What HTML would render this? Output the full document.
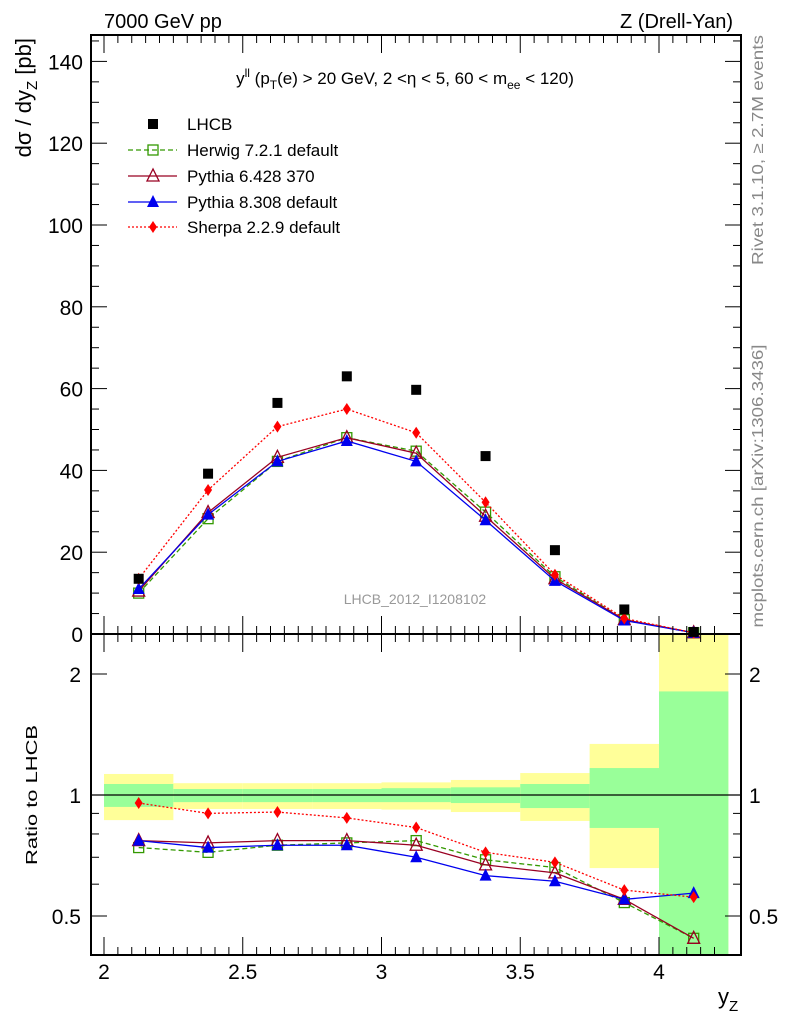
<!DOCTYPE html>
<html><head><meta charset="utf-8"><style>
body{margin:0;background:#fff;}
svg{display:block;font-family:"Liberation Sans",sans-serif;}
</style></head><body>
<svg id="chart" width="786" height="1024" viewBox="0 0 786 1024" xmlns="http://www.w3.org/2000/svg">
<g id="bands"></g>
<g id="marks"></g>
<g id="axes"></g>
<text x="104" y="28" font-size="20">7000 GeV pp</text>
<text x="733" y="28" font-size="20" text-anchor="end">Z (Drell-Yan)</text>
<text x="405" y="84" font-size="17" text-anchor="middle">y<tspan dy="-7" font-size="12">ll</tspan><tspan dy="7"> (p</tspan><tspan dy="5" font-size="12">T</tspan><tspan dy="-5">(e) &gt; 20 GeV, 2 &lt;η &lt; 5, 60 &lt; m</tspan><tspan dy="5" font-size="12">ee</tspan><tspan dy="-5"> &lt; 120)</tspan></text>
<text transform="translate(31,38) rotate(-90)" font-size="22" text-anchor="end">dσ / dy<tspan dy="6" font-size="15">Z</tspan><tspan dy="-6"> [pb]</tspan></text>
<text transform="translate(37,795) rotate(-90)" font-size="16" text-anchor="middle" textLength="140" lengthAdjust="spacingAndGlyphs">Ratio to LHCB</text>
<text x="718" y="1004" font-size="22">y<tspan dy="7" font-size="15">Z</tspan></text>
<text transform="translate(763,150) rotate(-90)" font-size="16" fill="#888" text-anchor="middle" textLength="230" lengthAdjust="spacingAndGlyphs">Rivet 3.1.10, ≥ 2.7M events</text>
<text transform="translate(763,486) rotate(-90)" font-size="16" fill="#888" text-anchor="middle" textLength="283" lengthAdjust="spacingAndGlyphs">mcplots.cern.ch [arXiv:1306.3436]</text>
<text x="415" y="604" font-size="14" fill="#999" text-anchor="middle">LHCB_2012_I1208102</text>
<g id="legend"></g>
</svg>
<script>
const xCenters=[2.125,2.375,2.625,2.875,3.125,3.375,3.625,3.875,4.125];
const binEdges=[2,2.25,2.5,2.75,3,3.25,3.5,3.75,4,4.25];
const dataLHCB=[13.5,39.2,56.5,63,59.7,43.5,20.5,6,0.5];
const herwig=[10,28.2,42.2,48,44.7,29.8,14,3.5,0.3];
const pythia6=[10.5,29.7,43.2,48,44.2,28.8,13.5,3.5,0.3];
const pythia8=[11,29.2,42.2,47.2,42.2,27.8,13,3.3,0.3];
const sherpa=[13.5,35.2,50.7,55,49.2,32.2,14.5,3.8,0.3];
const ratioHerwig=[0.74,0.72,0.75,0.76,0.77,0.69,0.66,0.54,0.44];
const ratioPythia6=[0.77,0.76,0.77,0.77,0.75,0.67,0.64,0.55,0.44];
const ratioPythia8=[0.77,0.74,0.75,0.75,0.70,0.63,0.61,0.55,0.57];
const ratioSherpa=[0.955,0.90,0.907,0.877,0.83,0.72,0.68,0.58,0.557];
const bandInnerLo=[0.934,0.96,0.96,0.96,0.96,0.955,0.928,0.828,0.3];
const bandInnerHi=[1.065,1.035,1.035,1.035,1.04,1.045,1.065,1.167,1.81];
const bandOuterLo=[0.866,0.923,0.923,0.923,0.92,0.907,0.862,0.658,0.3];
const bandOuterHi=[1.128,1.07,1.07,1.07,1.075,1.09,1.134,1.34,3];
const mainTicks=[0,20,40,60,80,100,120,140];
const ratioTicks=[0.5,1,2];
const xTicks=[2,2.5,3,3.5,4];

const NS="http://www.w3.org/2000/svg";
const L=91,R=741,T=35,M=634,B=955;
const X=v=>104+(v-2)*277.5;
const Y=v=>634-v*4.09;
const YR=v=>795-Math.log2(v)*121;
function el(tag,attrs,parent){const e=document.createElementNS(NS,tag);for(const k in attrs)e.setAttribute(k,attrs[k]);parent.appendChild(e);return e;}
const bands=document.getElementById('bands'),marks=document.getElementById('marks'),axes=document.getElementById('axes'),legend=document.getElementById('legend');
const clampR=v=>Math.min(Math.max(YR(v),M),B);
for(let i=0;i<xCenters.length;i++){
  const x0=X(binEdges[i]),x1=X(binEdges[i+1]);
  const o=el('rect',{x:x0,y:clampR(bandOuterHi[i]),width:x1-x0,height:clampR(bandOuterLo[i])-clampR(bandOuterHi[i]),fill:'#ffff99'},bands);
  
  
  const g=el('rect',{x:x0,y:clampR(bandInnerHi[i]),width:x1-x0,height:clampR(bandInnerLo[i])-clampR(bandInnerHi[i]),fill:'#99ff99'},bands);
  
  
}
const one=el('line',{x1:L,x2:R,y1:YR(1),y2:YR(1),stroke:'#000','stroke-width':1.3},bands);



function marker(type,cx,cy,col,parent){
  let m;
  if(type==='sq') m=el('rect',{x:cx-5,y:cy-5,width:10,height:10,fill:'#000'},parent);
  else if(type==='osq') m=el('rect',{x:cx-5,y:cy-5,width:10,height:10,fill:'none',stroke:col,'stroke-width':1.3},parent);
  else if(type==='otri') m=el('polygon',{points:`${cx},${cy-7} ${cx-6},${cy+5} ${cx+6},${cy+5}`,fill:'none',stroke:col,'stroke-width':1.3},parent);
  else if(type==='tri') m=el('polygon',{points:`${cx},${cy-7} ${cx-6},${cy+5} ${cx+6},${cy+5}`,fill:col},parent);
  else m=el('polygon',{points:`${cx},${cy-6} ${cx-4},${cy} ${cx},${cy+6} ${cx+4},${cy}`,fill:col},parent);
  return m;
}
const series=[
 {name:'herwig',vals:herwig,ratio:ratioHerwig,col:'#339900',dash:'5,3',mk:'osq',label:'Herwig 7.2.1 default'},
 {name:'pythia6',vals:pythia6,ratio:ratioPythia6,col:'#990022',dash:'',mk:'otri',label:'Pythia 6.428 370'},
 {name:'pythia8',vals:pythia8,ratio:ratioPythia8,col:'#0000ee',dash:'',mk:'tri',label:'Pythia 8.308 default'},
 {name:'sherpa',vals:sherpa,ratio:ratioSherpa,col:'#ff0000',dash:'2,2',mk:'dia',label:'Sherpa 2.2.9 default'}
];
series.forEach(s=>{
  const p=el('polyline',{points:xCenters.map((x,i)=>X(x)+','+Y(s.vals[i])).join(' '),fill:'none',stroke:s.col,'stroke-width':1.3,'stroke-dasharray':s.dash},marks);
  
  
  const pr=el('polyline',{points:xCenters.map((x,i)=>X(x)+','+YR(s.ratio[i])).join(' '),fill:'none',stroke:s.col,'stroke-width':1.3,'stroke-dasharray':s.dash},marks);
  
  
  xCenters.forEach((x,i)=>{
    const m=marker(s.mk,X(x),Y(s.vals[i]),s.col,marks);
    
    
    const mr=marker(s.mk,X(x),YR(s.ratio[i]),s.col,marks);
    
    
  });
});
xCenters.forEach((x,i)=>{
  const m=marker('sq',X(x),Y(dataLHCB[i]),'#000',marks);
  
  
});
[[T,M],[M,B]].forEach(([a,b])=>{
  const f=el('rect',{x:L,y:a,width:R-L,height:b-a,fill:'none',stroke:'#000','stroke-width':2},axes);
  
  
});
for(let v=0;v<=145;v+=5){
  const len=v%20===0?16:8;
  el('line',{x1:L,x2:L+len,y1:Y(v),y2:Y(v),stroke:'#000'},axes);
  el('line',{x1:R,x2:R-len,y1:Y(v),y2:Y(v),stroke:'#000'},axes);
}
mainTicks.forEach(v=>{
  const t=el('text',{x:L-8,y:Y(v)+8,'font-size':21,'text-anchor':'end'},axes);
  t.textContent=v;
  
  
});
[0.4,0.5,0.6,0.7,0.8,0.9,1,2].forEach(v=>{
  const len=ratioTicks.includes(v)?16:8;
  el('line',{x1:L,x2:L+len,y1:YR(v),y2:YR(v),stroke:'#000'},axes);
  el('line',{x1:R,x2:R-len,y1:YR(v),y2:YR(v),stroke:'#000'},axes);
});
ratioTicks.forEach(v=>{
  const t=el('text',{x:L-10,y:YR(v)+8,'font-size':21,'text-anchor':'end'},axes);
  t.textContent=v;
  
  
  const t2=el('text',{x:R+8,y:YR(v)+8,'font-size':21},axes);
  t2.textContent=v;
  
  
});
for(let k=0;k<=45;k++){
  const v=1.95+k*0.05; const x=X(v); if(x<L||x>R)continue;
  const major=Math.abs(v*2-Math.round(v*2))<1e-6;
  const len=major?18:8;
  [T,M].forEach(y=>el('line',{x1:x,x2:x,y1:y,y2:y+len,stroke:'#000'},axes));
  [M,B].forEach(y=>el('line',{x1:x,x2:x,y1:y,y2:y-len,stroke:'#000'},axes));
}
xTicks.forEach(v=>{
  const t=el('text',{x:X(v),y:979,'font-size':21,'text-anchor':'middle'},axes);
  t.textContent=v;
  
  
});
const ly=[124,150,176,202,227];
const lm=marker('sq',153,ly[0],'#000',legend);


const lt=el('text',{x:187,y:ly[0]+6,'font-size':17},legend);
lt.textContent='LHCB';


series.forEach((s,i)=>{
  const y=ly[i+1];
  const l=el('line',{x1:128,x2:177,y1:y,y2:y,stroke:s.col,'stroke-width':1.3,'stroke-dasharray':s.dash},legend);
  
  
  const m=marker(s.mk,153,y,s.col,legend);
  
  
  const t=el('text',{x:187,y:y+6,'font-size':17},legend);
  t.textContent=s.label;
  
  
});
</script>
</body></html>
